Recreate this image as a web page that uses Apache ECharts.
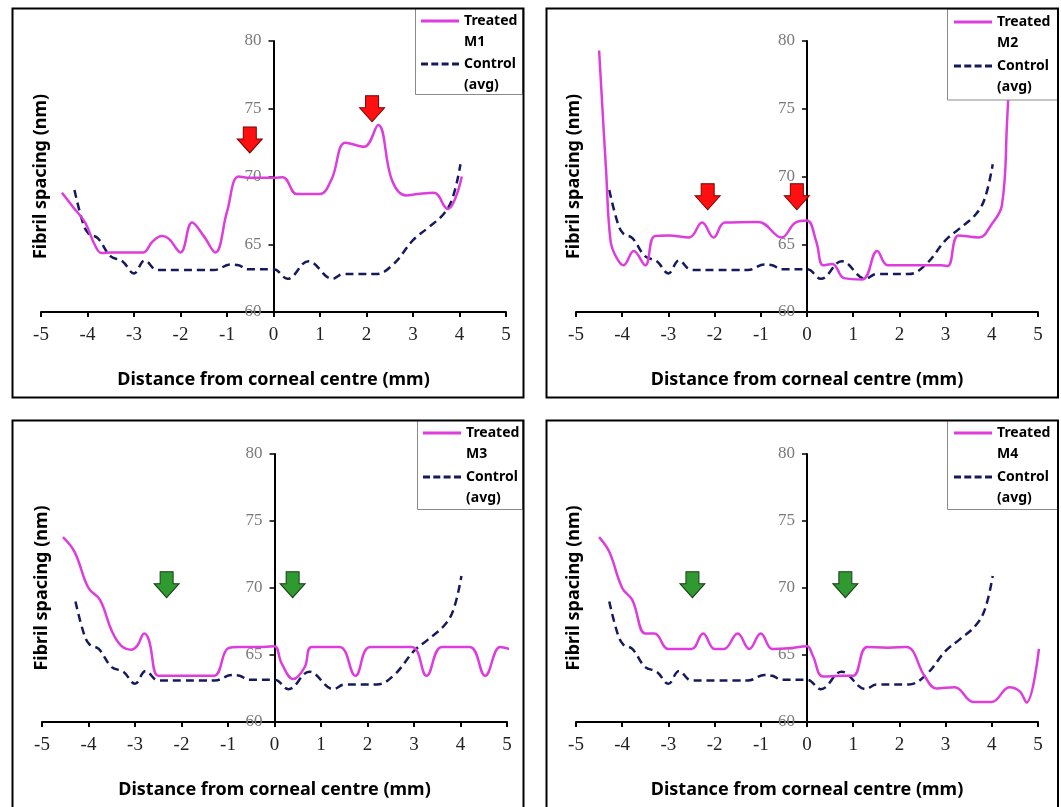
<!DOCTYPE html>
<html><head><meta charset="utf-8">
<script src="https://cdn.jsdelivr.net/npm/echarts@6/dist/echarts.min.js"></script>
<style>html,body{margin:0;padding:0;background:#fff}#c{width:1061px;height:807px}</style>
</head><body><div id="c"></div>
<script>
// ---- data ----
const xTickLabels = [-5, -4, -3, -2, -1, 0, 1, 2, 3, 4, 5];
const yTickLabels = [60, 65, 70, 75, 80];
const xTitle = 'Distance from corneal centre (mm)';
const yTitle = 'Fibril spacing (nm)';
const controlName = 'Control (avg)';

const controlAvg = [[-4.28,69.0],[-4.1,66.6],[-3.98,65.8],[-3.78,65.45],[-3.5,64.1],[-3.25,63.75],[-3.0,62.85],[-2.77,63.8],[-2.5,63.1],[-2.0,63.1],[-1.5,63.1],[-1.28,63.1],[-0.92,63.5],[-0.75,63.45],[-0.55,63.15],[0,63.15],[0.3,62.45],[0.75,63.75],[1.27,62.45],[1.5,62.8],[2.2,62.8],[2.57,63.5],[3.0,65.3],[3.3,66.15],[3.65,67.2],[3.85,68.4],[4.02,70.9]];

const treatedM1 = [[-4.55,68.8],[-4.3,67.7],[-4.05,66.6],[-3.85,65.0],[-3.7,64.35],[-3.5,64.4],[-3.25,64.4],[-3.0,64.4],[-2.8,64.4],[-2.6,65.2],[-2.4,65.6],[-2.25,65.4],[-2.0,64.4],[-1.75,66.6],[-1.5,65.6],[-1.25,64.4],[-1.0,67.4],[-0.75,70.0],[-0.5,69.9],[-0.25,69.9],[0,69.9],[0.2,69.95],[0.5,68.7],[0.75,68.7],[1.0,68.7],[1.25,69.8],[1.55,72.5],[1.95,72.2],[2.25,73.8],[2.55,69.7],[2.85,68.6],[3.1,68.7],[3.45,68.8],[3.75,67.6],[3.9,68.3],[4.05,70.0]];
const treatedM2 = [[-4.5,79.3],[-4.35,70.5],[-4.25,65.2],[-4.12,64.0],[-3.97,63.45],[-3.75,64.5],[-3.5,63.45],[-3.3,65.6],[-3.0,65.65],[-2.55,65.5],[-2.27,66.6],[-2.02,65.5],[-1.78,66.6],[-1.05,66.65],[-0.55,65.5],[-0.25,66.6],[0,66.75],[0.2,65.2],[0.35,63.45],[0.55,63.55],[0.8,62.5],[1.2,62.4],[1.52,64.5],[1.75,63.45],[2.5,63.45],[2.9,63.45],[3.05,63.4],[3.28,65.65],[3.72,65.5],[4.0,66.5],[4.22,67.9],[4.33,74.0],[4.4,79.5]];
const treatedM3 = [[-4.55,73.8],[-4.3,72.7],[-4.0,70.0],[-3.75,69.1],[-3.5,66.8],[-3.3,65.7],[-3.08,65.4],[-2.95,65.7],[-2.8,66.6],[-2.7,66.1],[-2.5,63.45],[-2.25,63.45],[-1.75,63.45],[-1.3,63.45],[-1.0,65.5],[-0.75,65.6],[-0.25,65.6],[0,65.65],[0.15,64.4],[0.4,63.2],[0.65,64.1],[0.8,65.6],[1.4,65.6],[1.74,63.45],[2.06,65.6],[2.95,65.6],[3.27,63.45],[3.6,65.6],[4.2,65.6],[4.53,63.45],[4.85,65.6],[5.05,65.45]];
const treatedM4 = [[-4.5,73.8],[-4.28,72.7],[-4.0,70.0],[-3.78,69.1],[-3.5,66.6],[-3.3,66.6],[-3.0,65.45],[-2.5,65.45],[-2.25,66.6],[-2.0,65.45],[-1.8,65.45],[-1.5,66.6],[-1.25,65.45],[-1.0,66.6],[-0.75,65.45],[-0.4,65.5],[0,65.65],[0.12,65.0],[0.35,63.4],[0.75,63.45],[1.0,63.45],[1.3,65.6],[1.75,65.55],[2.15,65.6],[2.55,63.4],[2.8,62.5],[3.2,62.6],[3.6,61.5],[4.0,61.5],[4.38,62.6],[4.6,62.3],[4.75,61.45],[5.02,65.45]];

const arrowsM1 = [[-0.51,72.7],[2.12,75.0]];
const arrowsM2 = [[-2.15,68.5],[-0.22,68.5]];
const arrowsM3 = [[-2.32,70.25],[0.39,70.25]];
const arrowsM4 = [[-2.48,70.25],[0.83,70.25]];

const treatedNames = ['Treated M1','Treated M2','Treated M3','Treated M4'];
const treatedData = [treatedM1, treatedM2, treatedM3, treatedM4];
const arrowData = [arrowsM1, arrowsM2, arrowsM3, arrowsM4];

// ---- layout & styles ----
const grids = [
  {left:41, top:41, width:465, height:271},
  {left:576, top:41, width:462, height:271},
  {left:42, top:454, width:465, height:268},
  {left:576, top:454, width:462, height:268}
];
const arrowColors = [
  {color:'#ff1010', border:'#7a0000'},
  {color:'#ff1010', border:'#7a0000'},
  {color:'#2f9a2f', border:'#1a3d1a'},
  {color:'#2f9a2f', border:'#1a3d1a'}
];
const legendPos = [
  {left:421, top:-10.5, gap:-20},
  {left:954, top:-9.5, gap:-19},
  {left:423, top:401.5, gap:-19},
  {left:954, top:401.5, gap:-19}
];
const panelRects = [
  {x:12.5, y:8.5, width:511, height:389},
  {x:546.5, y:8.5, width:511.5, height:389},
  {x:12.5, y:420.5, width:511, height:420},
  {x:546.5, y:420.5, width:511.5, height:420}
];
const legendRects = [
  {x:415.5, y:8.5, width:107, height:86},
  {x:947.5, y:9, width:110, height:91},
  {x:417.5, y:420.5, width:105, height:89},
  {x:947.5, y:420.5, width:110, height:89}
];
const arrowPath = 'path://M6,0 L19,0 L19,12 L25,12 L12.5,26 L0,12 L6,12 Z';
const solidIcon = 'path://M0,0H38V3H0Z';
const dashedIcon = 'path://M0,0H7V3H0Z M10.3,0H17.3V3H10.3Z M20.6,0H27.6V3H20.6Z M31,0H38V3H31Z';
const sans = 'Noto Sans';
const serif = 'Liberation Serif';
const treatedColor = '#dd3ddd';
const controlColor = '#161a5c';

const option = {
  animation: false,
  backgroundColor: '#fff',
  grid: grids.map(g => Object.assign({outerBoundsMode:'none', containLabel:false}, g)),
  xAxis: grids.map((g, i) => ({
    type:'value', gridIndex:i, min:xTickLabels[0], max:xTickLabels[xTickLabels.length-1], interval:1,
    axisLine:{show:true, onZero:false, lineStyle:{color:'#000', width:2}},
    axisTick:{show:true, length:5, lineStyle:{color:'#000', width:2}},
    axisLabel:{fontFamily:serif, fontSize:19, color:'#222', margin:14},
    splitLine:{show:false},
    name:xTitle, nameLocation:'middle', nameGap:59, nameMoveOverlap:false,
    nameTextStyle:{fontFamily:sans, fontWeight:'bold', fontSize:18, color:'#000'}
  })),
  yAxis: grids.map((g, i) => ({
    type:'value', gridIndex:i, position:'left', offset:-g.width / 2,
    min:yTickLabels[0], max:yTickLabels[yTickLabels.length-1], interval:5,
    axisLine:{show:true, onZero:false, lineStyle:{color:'#000', width:2}},
    axisTick:{show:true, length:5, lineStyle:{color:'#000', width:1.5}},
    axisLabel:{fontFamily:serif, fontSize:17, color:'#7a7a7a', margin:12},
    splitLine:{show:false},
    name:yTitle, nameLocation:'middle', nameGap:224, nameRotate:90, nameMoveOverlap:false,
    nameTextStyle:{fontFamily:sans, fontWeight:'bold', fontSize:18, color:'#000'}
  })),
  legend: legendPos.map((p, i) => ({
    orient:'vertical', left:p.left, top:p.top, padding:0, itemGap:p.gap,
    itemWidth:38, itemHeight:3, selectedMode:false, z:8,
    data:[
      {name:treatedNames[i], icon:solidIcon, itemStyle:{color:treatedColor}},
      {name:controlName, icon:dashedIcon, itemStyle:{color:controlColor}}
    ],
    formatter: name => '\n' + name.replace(' ', '\n'),
    textStyle:{fontFamily:sans, fontWeight:'bold', fontSize:14, color:'#000', lineHeight:21}
  })),
  graphic: [].concat(
    legendRects.map(r => ({type:'rect', shape:r, z:6, style:{fill:'#fff', stroke:'#8a8a8a', lineWidth:1}})),
    panelRects.map(r => ({type:'rect', shape:r, z:10, style:{fill:'none', stroke:'#000', lineWidth:2}}))
  ),
  series: []
};

grids.forEach((g, i) => {
  option.series.push({
    type:'line', name:treatedNames[i], xAxisIndex:i, yAxisIndex:i,
    data:treatedData[i], symbol:'none', smooth:0.4, z:3,
    lineStyle:{color:treatedColor, width:2.5}, itemStyle:{color:treatedColor},
    markPoint:{
      symbol:arrowPath, symbolSize:[25,26], silent:true,
      itemStyle:{color:arrowColors[i].color, borderColor:arrowColors[i].border, borderWidth:1},
      label:{show:false},
      data:arrowData[i].map(a => ({coord:a}))
    }
  });
  option.series.push({
    type:'line', name:controlName, xAxisIndex:i, yAxisIndex:i,
    data:controlAvg, symbol:'none', smooth:0.4, z:2,
    lineStyle:{color:controlColor, width:2.5, type:[8,5]}, itemStyle:{color:controlColor}
  });
});

const chart = echarts.init(document.getElementById('c'), null, {renderer:'canvas'});
chart.setOption(option);
</script>
</body></html>
